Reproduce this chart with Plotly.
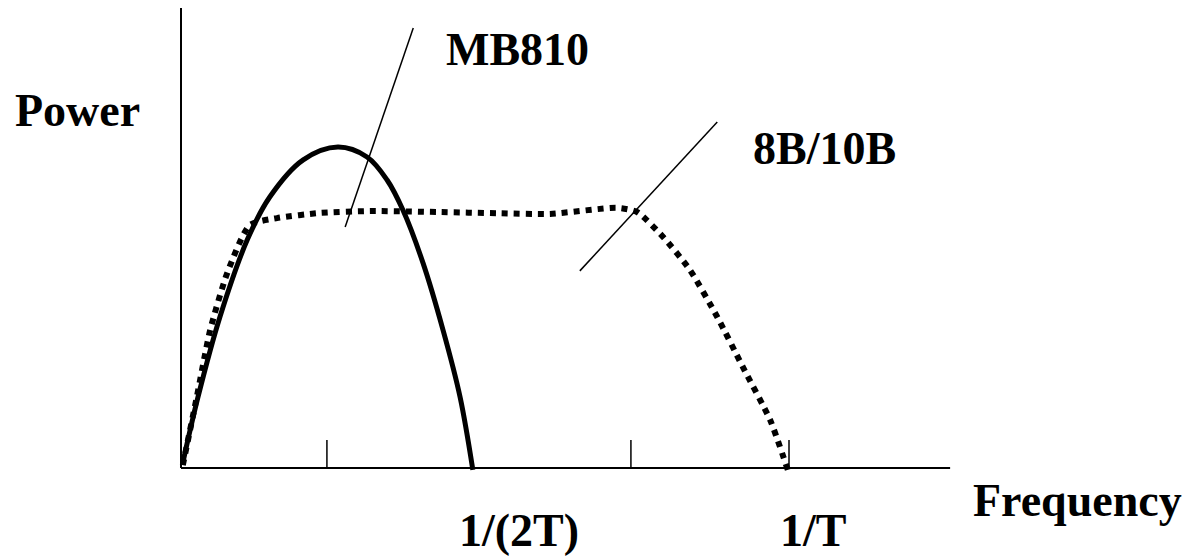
import plotly.graph_objects as go

# Frequency in units of 1/T, power in arbitrary units (MB810 peak = 1)
mb810_x = [0.003, 0.028, 0.064, 0.109, 0.146, 0.201, 0.258, 0.306, 0.339, 0.365, 0.398, 0.431, 0.459, 0.480]
mb810_y = [0.016, 0.222, 0.472, 0.713, 0.847, 0.963, 1.003, 0.972, 0.900, 0.806, 0.641, 0.431, 0.222, -0.006]

b8b10_x = [0.003, 0.026, 0.048, 0.076, 0.113, 0.158, 0.229, 0.311, 0.421, 0.525, 0.607, 0.717, 0.750, 0.793, 0.837, 0.882, 0.924, 0.969, 0.998]
b8b10_y = [0.009, 0.222, 0.431, 0.609, 0.759, 0.781, 0.797, 0.803, 0.800, 0.796, 0.794, 0.813, 0.800, 0.722, 0.619, 0.472, 0.316, 0.150, -0.006]

tick_x = [0.24, 0.74, 1.0]
tick_len = 0.0875

x_axis_end = 1.265
y_axis_end = 1.4375

# pointer lines: (x0, y0, x1, y1)
pointer_mb810 = [0.382, 1.375, 0.270, 0.753]
pointer_8b10b = [0.882, 1.081, 0.656, 0.616]

labels = ["Power", "MB810", "8B/10B", "Frequency", "1/(2T)", "1/T"]
label_x = [-0.171, 0.554, 1.059, 1.474, 0.556, 1.039]
label_y = [1.116, 1.309, 1.000, -0.100, -0.194, -0.194]

FONT = "Liberation Serif, Times New Roman, serif"

# page has an 8px body margin; figure is sized/ranged to compensate
W, H = 1184, 548
X0_PX, Y0_PX = 173, 460   # origin position inside the figure
PX_PER_X, PX_PER_Y = 608, 320

fig = go.Figure()

# axes
fig.add_trace(go.Scatter(x=[0, 0], y=[0, y_axis_end], mode="lines",
                         line=dict(color="black", width=2), hoverinfo="skip"))
fig.add_trace(go.Scatter(x=[0, x_axis_end], y=[0, 0], mode="lines",
                         line=dict(color="black", width=2), hoverinfo="skip"))
# ticks
for tx in tick_x:
    fig.add_trace(go.Scatter(x=[tx, tx], y=[0, tick_len], mode="lines",
                             line=dict(color="black", width=1.5), hoverinfo="skip"))

# 8B/10B dotted curve
fig.add_trace(go.Scatter(x=b8b10_x, y=b8b10_y, mode="lines",
                         line=dict(color="black", width=6, dash="6px,6px",
                                   shape="spline", smoothing=0.6)))
# MB810 solid curve
fig.add_trace(go.Scatter(x=mb810_x, y=mb810_y, mode="lines",
                         line=dict(color="black", width=5, shape="spline", smoothing=1.0)))

# pointer lines
for p in (pointer_mb810, pointer_8b10b):
    fig.add_trace(go.Scatter(x=[p[0], p[2]], y=[p[1], p[3]], mode="lines",
                             line=dict(color="black", width=1.5), hoverinfo="skip"))

for t, lx, ly in zip(labels, label_x, label_y):
    fig.add_annotation(x=lx, y=ly, text="<b>%s</b>" % t, showarrow=False,
                       xanchor="center", yanchor="middle",
                       font=dict(family=FONT, size=46, color="black"))

fig.update_layout(
    width=W, height=H,
    margin=dict(l=0, r=0, t=0, b=0),
    paper_bgcolor="white", plot_bgcolor="white",
    showlegend=False,
    xaxis=dict(range=[-X0_PX / PX_PER_X, (W - X0_PX) / PX_PER_X], visible=False, fixedrange=True),
    yaxis=dict(range=[-(H - Y0_PX) / PX_PER_Y, Y0_PX / PX_PER_Y], visible=False, fixedrange=True),
)

fig.write_html("out.html")
